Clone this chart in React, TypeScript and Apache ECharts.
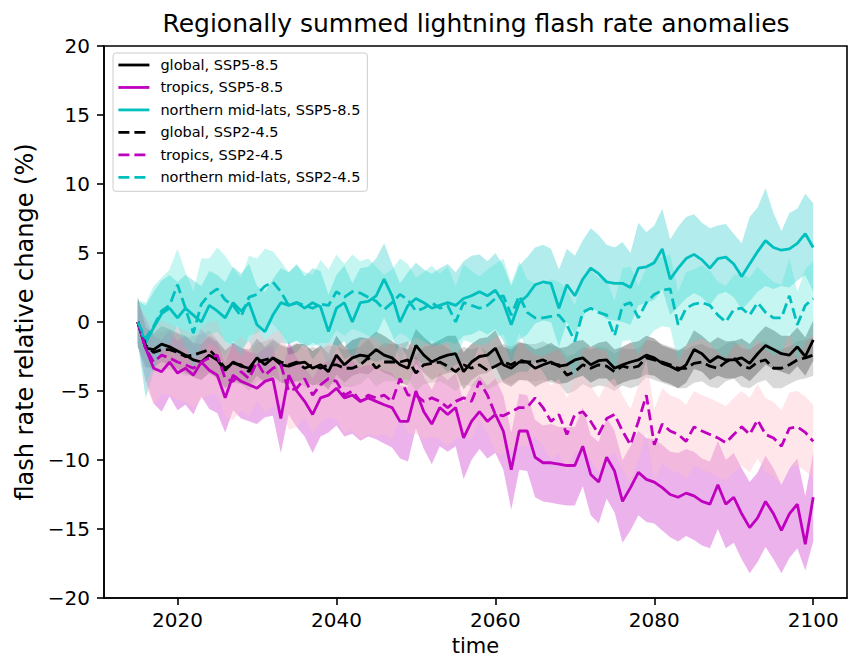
import React, { useEffect, useRef } from "react";
import * as echarts from "echarts";

const years = [
  2015, 2016, 2017, 2018, 2019, 2020, 2021, 2022, 2023, 2024,
  2025, 2026, 2027, 2028, 2029, 2030, 2031, 2032, 2033, 2034,
  2035, 2036, 2037, 2038, 2039, 2040, 2041, 2042, 2043, 2044,
  2045, 2046, 2047, 2048, 2049, 2050, 2051, 2052, 2053, 2054,
  2055, 2056, 2057, 2058, 2059, 2060, 2061, 2062, 2063, 2064,
  2065, 2066, 2067, 2068, 2069, 2070, 2071, 2072, 2073, 2074,
  2075, 2076, 2077, 2078, 2079, 2080, 2081, 2082, 2083, 2084,
  2085, 2086, 2087, 2088, 2089, 2090, 2091, 2092, 2093, 2094,
  2095, 2096, 2097, 2098, 2099, 2100,
];

const xTicks = [2020, 2040, 2060, 2080, 2100];

// ---- means ----
const global85 = [
  0, -1.9, -2.0, -1.6, -1.8, -2.1, -2.4, -2.75, -2.9, -2.4,
  -2.75, -3.5, -2.9, -3.2, -3.35, -2.6, -3.1, -2.6, -3.1, -3.2,
  -3.0, -2.9, -3.35, -3.1, -3.6, -2.4, -3.1, -2.6, -2.4, -2.5,
  -2.0, -2.4, -2.6, -3.1, -3.35, -1.7, -2.4, -2.9, -2.6, -2.4,
  -2.3, -3.6, -2.9, -2.5, -2.4, -1.9, -3.1, -3.35, -2.9, -2.9,
  -3.35, -3.1, -2.9, -3.2, -3.1, -2.75, -2.6, -3.1, -2.8, -2.75,
  -3.35, -3.1, -2.9, -2.75, -2.4, -2.6, -3.0, -3.2, -3.5, -3.1,
  -2.0, -2.3, -2.9, -2.5, -2.75, -2.75, -2.6, -3.0, -2.3, -1.7,
  -2.0, -2.3, -2.4, -1.8, -2.5, -1.3,
];
const tropics85 = [
  0, -1.9, -3.35, -3.6, -2.9, -3.7, -3.35, -3.85, -2.9, -3.5,
  -3.85, -5.5, -3.85, -4.3, -4.55, -4.8, -4.3, -4.1, -7.0, -3.85,
  -5.0, -5.75, -6.7, -5.5, -5.3, -4.8, -5.5, -5.3, -5.75, -5.5,
  -5.75, -6.0, -6.2, -7.2, -7.2, -5.0, -6.5, -7.4, -6.2, -6.7,
  -6.2, -8.4, -7.2, -6.5, -7.2, -6.7, -7.9, -10.7, -7.9, -7.9,
  -9.8, -10.2, -10.2, -10.3, -10.4, -10.4, -9.0, -11.05, -11.6, -9.8,
  -10.8, -13.0, -12.0, -10.9, -11.4, -11.6, -12.0, -12.5, -12.7, -12.4,
  -12.6, -13.0, -13.2, -11.8, -13.2, -12.7, -13.9, -14.9, -14.2, -13.0,
  -13.9, -15.1, -13.9, -13.2, -16.1, -12.7,
];
const nml85 = [
  0, -1.5, -0.4, 0.6, 1.0, 0.3, 1.0, 0.5, 0.0, 1.2,
  0.8, 0.3, 1.4, 0.8, 1.4, -0.2, -0.7, 0.5, 1.4, 1.2,
  1.4, 1.0, 1.4, 1.1, -0.7, 1.0, 1.4, 0.0, 1.4, 1.5,
  1.9, 3.1, 1.9, 0.0, 1.2, 1.7, 1.4, 1.0, 1.2, 1.4,
  1.2, 1.7, 1.9, 2.2, 1.9, 2.3, 1.4, -0.2, 1.4, 1.9,
  2.7, 2.9, 2.8, 1.0, 2.7, 1.9, 3.1, 3.9, 3.5, 2.9,
  2.8, 2.8, 2.5, 3.9, 4.0, 4.3, 5.3, 3.1, 3.9, 4.6,
  4.9, 4.5, 3.9, 4.6, 4.7, 4.2, 3.3, 4.2, 5.1, 5.9,
  5.4, 5.2, 5.3, 5.7, 6.4, 5.4,
];
const global45 = [
  0, -1.7, -2.2, -2.0, -2.0, -2.2, -2.5, -2.4, -2.2, -2.0,
  -2.6, -3.35, -3.0, -3.1, -3.6, -2.9, -2.75, -2.6, -2.9, -3.1,
  -2.9, -3.35, -3.1, -3.35, -3.1, -3.1, -3.35, -3.35, -3.1, -2.6,
  -3.35, -2.9, -2.9, -2.9, -2.75, -3.7, -3.1, -3.0, -2.9, -3.2,
  -3.6, -3.1, -3.35, -3.1, -3.5, -3.2, -2.9, -3.1, -2.75, -2.9,
  -2.9, -2.75, -3.0, -3.1, -3.85, -3.6, -3.1, -3.35, -3.1, -3.2,
  -3.6, -3.2, -3.35, -3.2, -2.6, -2.75, -2.9, -3.1, -3.35, -3.35,
  -3.0, -2.9, -3.2, -3.35, -2.9, -2.6, -3.2, -3.35, -2.9, -2.75,
  -3.35, -3.35, -3.1, -2.75, -2.6, -2.4,
];
const tropics45 = [
  0, -1.9, -2.9, -2.4, -2.6, -2.9, -3.1, -3.35, -2.9, -2.6,
  -2.4, -4.1, -4.3, -3.6, -4.1, -2.9, -3.85, -3.35, -3.1, -5.0,
  -4.8, -4.1, -5.3, -4.55, -4.1, -4.3, -5.3, -5.0, -5.75, -5.3,
  -5.5, -5.3, -5.75, -4.1, -5.3, -5.3, -5.75, -5.5, -5.75, -6.2,
  -5.75, -5.5, -5.75, -4.3, -5.3, -6.7, -6.8, -6.5, -6.2, -6.2,
  -5.5, -6.2, -7.2, -6.7, -8.15, -6.7, -6.5, -7.2, -8.15, -7.0,
  -6.7, -7.9, -8.9, -7.2, -5.3, -8.9, -7.4, -7.9, -8.15, -8.65,
  -7.6, -7.9, -8.15, -8.4, -8.75, -8.15, -7.6, -8.15, -7.1, -8.15,
  -8.4, -9.0, -7.7, -7.6, -8.0, -8.65,
];
const nml45 = [
  0, -1.2, -0.3, 0.8, 1.2, 2.7, 1.0, -0.8, 1.3, 2.0,
  2.4, 1.6, 1.2, 0.4, 1.8, 2.0, 2.6, 2.9, 2.2, 1.2,
  1.4, 1.2, 1.0, 1.3, 1.2, 2.2, 1.8, 2.2, 2.1, 1.8,
  1.5, 0.9, 1.4, 2.0, 1.6, 0.8, 1.0, 1.4, 1.0, 1.2,
  0.0, 1.4, 1.2, 1.0, 1.2, 1.7, 1.9, 0.5, 1.9, 0.7,
  0.3, 0.3, 0.4, 0.5, -0.2, -1.4, 0.7, 1.0, 0.7, 0.5,
  -1.0, 1.2, 1.4, 0.3, 1.4, 2.0, 2.3, 2.4, -0.2, 1.0,
  1.3, 1.4, 1.2, 0.5, 0.0, 0.9, 1.0, 0.5, 1.4, 0.7,
  0.3, 0.3, 1.9, -0.2, 1.2, 1.7,
];

// ---- uncertainty bands ----
const global85Upper = [
  1.8, -0.4, -0.8, -0.3, -0.5, -0.8, -1.0, -1.5, -1.6, -1.0,
  -1.4, -2.1, -1.5, -1.9, -2.0, -1.2, -1.8, -1.3, -1.7, -1.9,
  -1.6, -1.6, -2.1, -1.7, -2.3, -1.0, -1.8, -1.3, -1.1, -1.2,
  -0.7, -1.0, -1.4, -1.8, -2.0, -0.5, -1.1, -1.6, -1.3, -1.0,
  -1.0, -2.2, -1.6, -1.2, -1.1, -0.6, -1.8, -2.0, -1.5, -1.6,
  -2.0, -1.8, -1.5, -1.9, -1.8, -1.4, -1.3, -1.8, -1.5, -1.4,
  -2.0, -1.8, -1.5, -1.4, -1.0, -1.2, -1.7, -1.9, -2.1, -1.7,
  -0.6, -1.0, -1.5, -1.1, -1.4, -1.4, -1.2, -1.6, -0.9, -0.3,
  -0.6, -1.0, -1.0, -0.4, -1.1, 0.1,
];
const global85Lower = [
  -1.8, -3.3, -3.3, -2.9, -3.1, -3.4, -3.7, -4.0, -4.2, -3.7,
  -4.1, -4.8, -4.2, -4.5, -4.6, -3.9, -4.4, -3.9, -4.4, -4.5,
  -4.3, -4.2, -4.6, -4.4, -4.9, -3.8, -4.4, -3.9, -3.7, -3.8,
  -3.3, -3.7, -3.9, -4.4, -4.6, -3.0, -3.7, -4.2, -3.9, -3.7,
  -3.6, -4.9, -4.2, -3.8, -3.7, -3.2, -4.4, -4.7, -4.2, -4.2,
  -4.7, -4.4, -4.2, -4.5, -4.4, -4.1, -3.9, -4.4, -4.1, -4.1,
  -4.7, -4.4, -4.2, -4.1, -3.8, -3.9, -4.3, -4.5, -4.8, -4.4,
  -3.4, -3.6, -4.2, -3.9, -4.1, -4.1, -3.9, -4.3, -3.7, -3.1,
  -3.4, -3.6, -3.8, -3.2, -3.9, -2.8,
];
const tropics85Upper = [
  1.5, 0.2, -1.0, -1.3, -0.6, -1.4, -1.0, -1.6, -0.5, -1.2,
  -1.5, -3.0, -1.5, -1.9, -2.2, -2.3, -1.9, -1.7, -4.5, -1.4,
  -2.6, -3.3, -4.1, -3.1, -2.8, -2.4, -3.1, -2.8, -3.3, -3.1,
  -3.3, -3.5, -3.7, -4.6, -4.7, -2.5, -4.0, -4.9, -3.7, -4.2,
  -3.7, -5.8, -4.6, -3.9, -4.6, -4.1, -5.3, -8.0, -5.2, -5.3,
  -7.1, -7.5, -7.4, -7.6, -7.6, -7.6, -6.2, -8.2, -8.7, -6.9,
  -7.9, -10.0, -9.0, -7.9, -8.4, -8.5, -8.9, -9.4, -9.5, -9.2,
  -9.4, -9.9, -10.1, -8.6, -10.0, -9.5, -10.6, -11.6, -10.9, -9.7,
  -10.6, -11.8, -10.6, -9.9, -12.6, -9.5,
];
const tropics85Lower = [
  -1.5, -4.2, -5.9, -6.5, -5.4, -6.4, -6.0, -6.7, -5.4, -6.3,
  -6.6, -8.0, -6.4, -7.0, -7.2, -7.4, -6.9, -6.8, -9.5, -6.7,
  -7.6, -8.3, -9.5, -8.3, -8.0, -7.5, -8.3, -8.1, -8.6, -8.3,
  -8.5, -8.8, -9.1, -9.9, -10.1, -7.7, -9.2, -10.3, -9.0, -9.4,
  -9.0, -11.4, -10.0, -9.2, -9.9, -9.5, -10.7, -13.6, -10.7, -10.8,
  -12.7, -13.0, -13.1, -13.2, -13.3, -13.3, -11.9, -14.0, -14.6, -12.8,
  -13.8, -16.0, -15.1, -14.0, -14.5, -14.6, -15.1, -15.6, -15.9, -15.5,
  -15.8, -16.2, -16.4, -15.0, -16.4, -16.0, -17.2, -18.2, -17.4, -16.3,
  -17.2, -18.2, -17.1, -16.4, -18.0, -15.9,
];
const nml85Upper = [
  1.5, 1.2, 2.2, 3.0, 3.4, 2.9, 3.4, 3.0, 2.6, 3.7,
  3.4, 2.9, 4.0, 3.5, 4.2, 2.6, 2.2, 3.1, 3.9, 3.6,
  4.2, 3.3, 3.9, 3.7, 2.0, 3.4, 4.1, 2.8, 3.9, 4.0,
  4.6, 5.7, 4.2, 2.8, 3.6, 4.3, 3.8, 3.5, 3.9, 4.2,
  3.6, 4.4, 4.8, 4.9, 4.4, 5.0, 4.1, 2.6, 4.1, 4.7,
  5.4, 5.6, 5.3, 3.8, 5.3, 4.8, 5.9, 6.8, 6.3, 5.6,
  5.4, 5.8, 5.0, 7.2, 6.5, 7.0, 8.2, 6.0, 6.9, 7.6,
  7.8, 7.2, 6.8, 7.0, 7.1, 6.4, 5.7, 7.6, 8.3, 9.7,
  7.9, 6.6, 7.9, 8.2, 9.3, 8.6,
];
const nml85Lower = [
  -1.5, -5.5, -3.6, -2.4, -2.0, -2.5, -1.8, -2.3, -2.9, -1.5,
  -1.9, -2.5, -1.4, -2.0, -1.4, -3.0, -3.4, -2.3, -1.5, -1.6,
  -1.4, -1.9, -1.5, -1.8, -3.4, -1.8, -1.4, -2.7, -1.3, -1.2,
  -0.9, 0.3, -0.9, -2.8, -1.6, -1.1, -1.4, -1.8, -1.6, -1.4,
  -1.6, -1.0, -0.9, -0.6, -0.9, -0.5, -1.4, -3.0, -1.3, -0.9,
  -0.1, 0.1, 0.0, -1.8, 0.0, -0.9, 0.4, 1.1, 0.7, 0.2,
  0.1, 0.0, -0.2, 1.2, 1.4, 1.6, 2.4, 0.5, 1.1, 1.7,
  2.1, 1.8, 1.2, 2.0, 2.2, 1.8, 0.9, 1.5, 2.2, 2.6,
  2.4, 2.6, 2.5, 3.0, 3.4, 2.2,
];
const global45Upper = [
  1.8, -0.4, -0.9, -0.7, -0.6, -0.9, -1.2, -1.0, -0.9, -0.6,
  -1.3, -2.0, -1.7, -1.8, -2.3, -1.5, -1.4, -1.2, -1.6, -1.8,
  -1.5, -2.0, -1.8, -2.0, -1.7, -1.8, -2.0, -2.0, -1.8, -1.2,
  -2.0, -1.5, -1.6, -1.6, -1.4, -2.4, -1.8, -1.7, -1.5, -1.9,
  -2.3, -1.8, -2.0, -1.8, -2.2, -1.9, -1.6, -1.8, -1.4, -1.6,
  -1.6, -1.4, -1.7, -1.8, -2.5, -2.3, -1.8, -2.0, -1.8, -1.9,
  -2.3, -1.9, -2.0, -1.9, -1.3, -1.4, -1.6, -1.8, -2.0, -2.0,
  -1.7, -1.6, -1.9, -2.0, -1.6, -1.3, -1.9, -2.0, -1.6, -1.4,
  -2.0, -2.0, -1.8, -1.4, -1.3, -1.1,
];
const global45Lower = [
  -1.8, -3.1, -3.6, -3.4, -3.4, -3.6, -3.9, -3.8, -3.6, -3.4,
  -4.0, -4.7, -4.4, -4.5, -5.0, -4.3, -4.1, -4.0, -4.3, -4.5,
  -4.3, -4.7, -4.5, -4.7, -4.5, -4.5, -4.7, -4.7, -4.5, -4.0,
  -4.7, -4.3, -4.3, -4.3, -4.1, -5.0, -4.5, -4.4, -4.3, -4.6,
  -5.0, -4.5, -4.7, -4.5, -4.9, -4.6, -4.3, -4.5, -4.2, -4.3,
  -4.3, -4.2, -4.4, -4.5, -5.2, -5.0, -4.5, -4.8, -4.6, -4.7,
  -5.0, -4.6, -4.8, -4.6, -4.0, -4.2, -4.4, -4.6, -4.8, -4.8,
  -4.4, -4.3, -4.7, -4.8, -4.3, -4.1, -4.7, -4.8, -4.4, -4.2,
  -4.8, -4.8, -4.5, -4.2, -4.1, -3.9,
];
const tropics45Upper = [
  1.5, 0.4, -0.3, 0.1, -0.1, -0.4, -0.6, -0.9, -0.4, 0.0,
  0.1, -1.5, -1.7, -1.0, -1.5, -0.4, -1.3, -0.8, -0.6, -2.4,
  -2.2, -1.5, -2.7, -2.0, -1.5, -1.7, -2.7, -2.4, -3.1, -2.7,
  -2.9, -2.7, -3.1, -1.5, -2.7, -2.7, -3.1, -2.9, -3.1, -3.6,
  -3.1, -2.9, -3.1, -1.7, -2.7, -4.1, -4.2, -3.9, -3.6, -3.6,
  -2.9, -3.6, -4.6, -4.1, -5.5, -4.1, -3.9, -4.6, -5.5, -4.4,
  -4.1, -5.3, -6.3, -4.6, -2.7, -6.3, -4.8, -5.3, -5.5, -6.0,
  -5.0, -5.3, -5.5, -5.8, -6.1, -5.5, -5.0, -5.5, -4.5, -5.5,
  -5.8, -6.4, -5.1, -5.0, -5.4, -6.0,
];
const tropics45Lower = [
  -1.5, -4.6, -6.0, -5.2, -5.3, -5.6, -5.8, -6.2, -5.6, -5.3,
  -5.2, -6.9, -7.1, -6.4, -6.9, -5.7, -6.6, -6.1, -5.9, -7.8,
  -7.6, -6.9, -8.1, -7.3, -6.9, -7.1, -8.1, -7.8, -8.5, -8.1,
  -8.3, -8.1, -8.5, -6.9, -8.1, -8.1, -8.5, -8.3, -8.5, -9.0,
  -8.5, -8.3, -8.5, -7.1, -8.1, -9.5, -9.6, -9.3, -9.0, -9.0,
  -8.3, -9.0, -10.0, -9.5, -10.9, -9.5, -9.3, -10.0, -10.9, -9.8,
  -9.5, -10.7, -11.6, -10.0, -8.1, -11.6, -10.2, -10.7, -10.9, -11.4,
  -10.4, -10.7, -10.9, -11.2, -11.5, -10.9, -10.4, -10.9, -9.9, -10.9,
  -11.2, -11.8, -10.5, -10.4, -10.8, -11.3,
];
const nml45Upper = [
  1.6, 1.4, 2.6, 3.2, 3.8, 5.3, 3.6, 2.2, 4.6, 4.6,
  5.4, 4.8, 3.9, 3.2, 4.8, 4.6, 5.3, 5.1, 4.4, 3.6,
  4.1, 3.6, 3.4, 4.5, 3.8, 4.9, 4.2, 4.9, 4.4, 4.6,
  4.0, 3.4, 3.8, 4.6, 4.2, 3.2, 3.6, 4.1, 3.5, 4.0,
  2.6, 4.2, 3.7, 3.3, 3.8, 4.2, 4.6, 2.8, 4.4, 3.1,
  2.8, 2.7, 3.1, 2.9, 2.4, 1.2, 3.3, 3.7, 3.2, 3.1,
  1.5, 3.9, 4.0, 2.6, 3.9, 4.6, 4.7, 4.9, 2.2, 3.6,
  3.8, 4.1, 3.7, 2.9, 2.6, 3.4, 3.5, 3.2, 4.0, 3.4,
  2.9, 2.7, 4.6, 2.2, 3.8, 4.4,
];
const nml45Lower = [
  -1.6, -4.4, -3.2, -2.0, -1.6, -0.2, -1.9, -3.4, -1.5, -0.9,
  -0.7, -1.4, -1.7, -2.5, -1.0, -0.8, -0.4, -0.1, -0.8, -1.6,
  -1.3, -1.6, -1.8, -1.5, -1.5, -0.6, -1.0, -0.5, -0.7, -1.0,
  -1.3, -1.8, -1.4, -0.8, -1.1, -2.0, -1.7, -1.3, -1.8, -1.5,
  -2.8, -1.3, -1.5, -1.7, -1.6, -1.1, -0.9, -2.3, -0.8, -2.0,
  -2.4, -2.5, -2.2, -2.0, -2.9, -4.0, -2.0, -1.7, -2.0, -2.1,
  -3.8, -1.4, -1.3, -2.4, -1.3, -0.6, -0.3, -0.4, -2.9, -1.7,
  -1.4, -1.2, -1.6, -2.2, -2.6, -1.7, -1.6, -2.1, -1.3, -2.0,
  -2.4, -2.2, -0.8, -2.8, -1.5, -0.9,
];

const FONT = "'DejaVu Sans', sans-serif";
const BLACK = "#000000";
const MAGENTA = "#bf00bf";
const CYAN = "#00bfbf";
const DASH = [11, 5];
const LW = 2.8;

function pairs(arr: number[]) {
  return years.map((y, i) => [y, arr[i]]);
}

function band(lower: number[], upper: number[], fill: string) {
  return {
    type: "custom",
    silent: true,
    z: 1,
    clip: true,
    data: [[years[0], lower[0]]],
    encode: { x: 0, y: 1 },
    renderItem: (_params: any, api: any) => {
      const pts: number[][] = [];
      for (let i = 0; i < years.length; i++) pts.push(api.coord([years[i], upper[i]]));
      for (let i = years.length - 1; i >= 0; i--) pts.push(api.coord([years[i], lower[i]]));
      return { type: "polygon", shape: { points: pts }, style: { fill, stroke: "none" } };
    },
  };
}

function line(name: string, arr: number[], color: string, dashed: boolean) {
  return {
    type: "line",
    name,
    data: pairs(arr),
    symbol: "none",
    showSymbol: false,
    z: 3,
    itemStyle: { color },
    lineStyle: { color, width: LW, type: dashed ? DASH : "solid", cap: "butt" },
  };
}

const legendNames = [
  "global, SSP5-8.5",
  "tropics, SSP5-8.5",
  "northern mid-lats, SSP5-8.5",
  "global, SSP2-4.5",
  "tropics, SSP2-4.5",
  "northern mid-lats, SSP2-4.5",
];

export default function App() {
  const ref = useRef<HTMLDivElement>(null);
  useEffect(() => {
    if (!ref.current) return;
    const chart = echarts.init(ref.current, null, { renderer: "svg" });
    const fmtY = (v: number) => (v < 0 ? "\u2212" + Math.abs(v) : String(v));
    chart.setOption({
      animation: false,
      backgroundColor: "#ffffff",
      grid: {
        left: 104,
        right: 1,
        top: 46,
        bottom: 60,
        show: true,
        borderColor: "#000",
        borderWidth: 1.6,
        backgroundColor: "transparent",
      },
      graphic: [
        {
          type: "text",
          x: 476,
          y: 23,
          style: {
            text: "Regionally summed lightning flash rate anomalies",
            font: "25px " + FONT,
            fill: "#000",
            textAlign: "center",
            textVerticalAlign: "middle",
          },
        },
      ],
      legend: {
        data: legendNames,
        orient: "vertical",
        left: 113,
        top: 53,
        padding: [4, 7, 6, 4],
        itemWidth: 31,
        itemHeight: 16,
        itemGap: 6.46,
        selectedMode: false,
        itemStyle: { opacity: 0 },
        lineStyle: { width: LW },
        backgroundColor: "rgba(255,255,255,0.8)",
        borderColor: "#cccccc",
        borderWidth: 1,
        borderRadius: 3,
        textStyle: {
          fontFamily: FONT,
          fontSize: 14.5,
          color: "#000",
          lineHeight: 16,
          padding: [0, 0, 0, 6],
        },
      },
      xAxis: {
        type: "value",
        min: 2010.75,
        max: 2104.25,
        name: "time",
        nameLocation: "middle",
        nameGap: 37,
        nameTextStyle: { fontFamily: FONT, fontSize: 21, color: "#000" },
        splitLine: { show: false },
        axisLine: { onZero: false, lineStyle: { color: "#000", width: 1.6 } },
        axisTick: { show: true, length: 7, lineStyle: { color: "#000", width: 1.6 }, customValues: xTicks },
        axisLabel: {
          customValues: xTicks,
          fontFamily: FONT,
          fontSize: 20,
          color: "#000",
          margin: 12,
          formatter: (v: number) => String(v),
        },
      },
      yAxis: {
        type: "value",
        min: -20,
        max: 20,
        interval: 5,
        name: "flash rate relative change (%)",
        nameLocation: "middle",
        nameGap: 62,
        nameTextStyle: { fontFamily: FONT, fontSize: 24, color: "#000" },
        splitLine: { show: false },
        axisLine: { show: true, onZero: false, lineStyle: { color: "#000", width: 1.6 } },
        axisTick: { show: true, length: 7, lineStyle: { color: "#000", width: 1.6 } },
        axisLabel: { fontFamily: FONT, fontSize: 20, color: "#000", margin: 14, formatter: fmtY },
      },
      series: [
        band(global85Lower, global85Upper, "rgba(0,0,0,0.3)"),
        band(tropics85Lower, tropics85Upper, "rgba(191,0,191,0.3)"),
        band(nml85Lower, nml85Upper, "rgba(0,191,191,0.3)"),
        band(global45Lower, global45Upper, "rgba(128,128,128,0.3)"),
        band(tropics45Lower, tropics45Upper, "rgba(255,192,203,0.4)"),
        band(nml45Lower, nml45Upper, "rgba(64,224,208,0.3)"),
        line(legendNames[0], global85, BLACK, false),
        line(legendNames[1], tropics85, MAGENTA, false),
        line(legendNames[2], nml85, CYAN, false),
        line(legendNames[3], global45, BLACK, true),
        line(legendNames[4], tropics45, MAGENTA, true),
        line(legendNames[5], nml45, CYAN, true),
      ],
    });
    return () => chart.dispose();
  }, []);
  return (
    <div
      ref={ref}
      style={{ position: "fixed", left: 0, top: 0, width: 848, height: 661, background: "#fff" }}
    />
  );
}
